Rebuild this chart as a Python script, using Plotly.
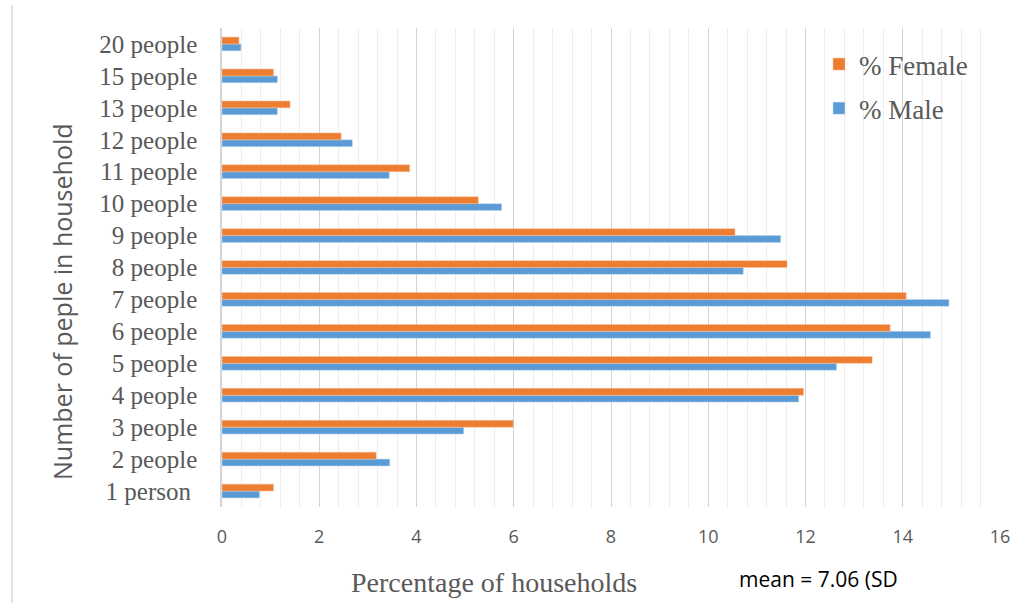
import plotly.graph_objects as go

# Household size categories (bottom to top on the chart)
household_sizes = ["1 person\u00a0", "2 people", "3 people", "4 people", "5 people",
                   "6 people", "7 people", "8 people", "9 people", "10 people",
                   "11 people", "12 people", "13 people", "15 people", "20 people"]

# Percentage of households by sex of respondent
pct_male = [0.77, 3.45, 4.97, 11.86, 12.64, 14.57, 14.95, 10.72, 11.49, 5.75,
            3.44, 2.68, 1.14, 1.14, 0.39]
pct_female = [1.06, 3.17, 5.99, 11.96, 13.37, 13.74, 14.07, 11.62, 10.55, 5.27,
              3.86, 2.45, 1.40, 1.06, 0.35]

x_ticks = [0, 2, 4, 6, 8, 10, 12, 14, 16]

W, H = 1030, 603
L, R, T, B = 222, 1000, 28, 507          # plot area in pixels


def px_x(px):
    return (px - L) / (R - L)


def px_y(py):
    return (B - py) / (B - T)


GREY = "#595959"
SERIF = "Liberation Serif"
SANS = "Open Sans"

fig = go.Figure()
fig.add_trace(go.Bar(
    y=household_sizes, x=pct_male, orientation="h", name="% Male",
    marker=dict(color="#5B9BD5", line=dict(width=0.6, color="rgba(190,215,240,0.9)")),
    legendgroup="m", legendrank=2,
))
fig.add_trace(go.Bar(
    y=household_sizes, x=pct_female, orientation="h", name="% Female",
    marker=dict(color="#ED7D31", line=dict(width=0.6, color="rgba(245,190,150,0.9)")),
    legendgroup="f", legendrank=1,
))

fig.update_layout(
    width=W, height=H,
    margin=dict(l=L, r=W - R, t=T, b=H - B, pad=0),
    paper_bgcolor="white", plot_bgcolor="white",
    barmode="group", bargap=0.57, bargroupgap=0,
    showlegend=True,
    legend=dict(
        x=px_x(819), y=px_y(40), xanchor="left", yanchor="top",
        traceorder="grouped", tracegroupgap=6,
        font=dict(family=SERIF, size=27, color=GREY),
        bgcolor="rgba(0,0,0,0)",
    ),
    xaxis=dict(
        range=[0, 16], tickvals=x_ticks, ticktext=[str(v) for v in x_ticks],
        showgrid=True, gridcolor="#D4D4D4", gridwidth=1.3,
        minor=dict(dtick=0.4, showgrid=True, gridcolor="#EDEDED", gridwidth=1),
        zeroline=False, showline=False, ticks="",
        tickfont=dict(family=SANS, size=18, color=GREY),
        ticklabelstandoff=17, fixedrange=True,
    ),
    yaxis=dict(
        type="category", categoryorder="array", categoryarray=household_sizes,
        showgrid=False, zeroline=False,
        showline=True, linecolor="#D4D4D4", linewidth=1.5,
        ticks="", tickfont=dict(family=SERIF, size=25, color=GREY),
        ticklabelstandoff=18, fixedrange=True,
    ),
    annotations=[
        dict(text="Number of peple in household", textangle=-90,
             xref="paper", yref="paper", x=px_x(62), y=px_y(302),
             xanchor="center", yanchor="middle", showarrow=False,
             font=dict(family=SANS, size=25, color=GREY)),
        dict(text="Percentage of households",
             xref="paper", yref="paper", x=px_x(494), y=px_y(582),
             xanchor="center", yanchor="middle", showarrow=False,
             font=dict(family=SERIF, size=28, color=GREY)),
        dict(text="mean = 7.06 (SD",
             xref="paper", yref="paper", x=px_x(737), y=px_y(579),
             xanchor="left", yanchor="middle", showarrow=False,
             font=dict(family=SANS, size=21, color="black")),
    ],
    shapes=[
        dict(type="line", xref="paper", yref="paper",
             x0=px_x(12), x1=px_x(12), y0=px_y(5), y1=px_y(603),
             line=dict(color="#D9D9D9", width=1.5)),
    ],
)

fig.write_html("out.html", config={"displayModeBar": False})
